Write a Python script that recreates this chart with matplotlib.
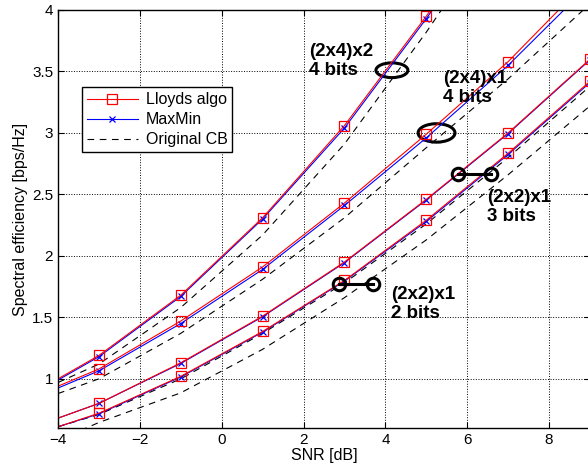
import matplotlib
matplotlib.use('Agg')
import matplotlib.pyplot as plt
from matplotlib.patches import Ellipse

plt.rcParams['font.family'] = ['Liberation Sans', 'DejaVu Sans']

# SNR points (markers drawn from -3 on, every 2 dB)
snr = [-4, -3, -1, 1, 3, 5, 7, 9]

# (2x4)x2, 4 bits
lloyd_a = [1.00, 1.19, 1.68, 2.31, 3.06, 3.95, 4.90, 5.90]
maxmin_a = [0.99, 1.18, 1.67, 2.30, 3.04, 3.93, 4.88, 5.88]
orig_a = [0.97, 1.12, 1.58, 2.17, 2.91, 3.82, 4.80, 5.80]
# (2x4)x1, 4 bits
lloyd_b = [0.94, 1.08, 1.47, 1.91, 2.43, 2.99, 3.58, 4.26]
maxmin_b = [0.925, 1.065, 1.45, 1.89, 2.41, 2.96, 3.55, 4.21]
orig_b = [0.88, 1.00, 1.37, 1.81, 2.31, 2.88, 3.44, 4.05]
# (2x2)x1, 3 bits
lloyd_c = [0.68, 0.80, 1.13, 1.51, 1.95, 2.46, 3.00, 3.60]
maxmin_c = [0.68, 0.80, 1.125, 1.505, 1.945, 2.455, 2.995, 3.595]
orig_c = [0.61, 0.71, 1.00, 1.37, 1.78, 2.26, 2.80, 3.38]
# (2x2)x1, 2 bits
lloyd_d = [0.61, 0.72, 1.02, 1.385, 1.80, 2.29, 2.835, 3.42]
maxmin_d = [0.61, 0.715, 1.015, 1.38, 1.795, 2.28, 2.825, 3.41]
orig_d = [0.50, 0.645, 0.886, 1.24, 1.66, 2.13, 2.66, 3.22]

lloyds = [lloyd_a, lloyd_b, lloyd_c, lloyd_d]
maxmins = [maxmin_a, maxmin_b, maxmin_c, maxmin_d]
origs = [orig_a, orig_b, orig_c, orig_d]

fig = plt.figure(figsize=(5.88, 4.74), dpi=100)
ax = fig.add_axes([58 / 588, 46 / 474, 532 / 588, 418 / 474])

mk = slice(1, None)
for i in range(4):
    lo, = ax.plot(snr, origs[i], color='k', ls=(0, (6, 5)), lw=0.8)
    mm, = ax.plot(snr, maxmins[i], color='b', lw=0.8, marker='x', ms=5,
                  mew=0.9, markevery=mk)
    ll, = ax.plot(snr, lloyds[i], color='r', lw=0.8, marker='s', ms=6.5,
                  mfc='none', mew=0.9, markevery=mk)
    if i == 0:
        handles = [ll, mm, lo]

ax.set_xlim(-4, 9)
ax.set_ylim(0.6, 4)
ax.set_xticks([-4, -2, 0, 2, 4, 6, 8])
ax.set_xticklabels(['\u22124', '\u22122', '0', '2', '4', '6', '8'])
ax.set_yticks([1, 1.5, 2, 2.5, 3, 3.5, 4])
ax.set_yticklabels(['1', '1.5', '2', '2.5', '3', '3.5', '4'])
ax.tick_params(direction='in', top=True, right=True, length=4, labelsize=11)
ax.grid(True, ls=':', color='k', lw=0.7)
for s in ax.spines.values():
    s.set_linewidth(1.0)
ax.set_xlabel('SNR [dB]', fontsize=11.5, labelpad=1)
ax.set_ylabel('Spectral efficiency [bps/Hz]', fontsize=11.5, labelpad=3)

leg = ax.legend(handles, ['Lloyds algo', 'MaxMin', 'Original CB'],
                loc='upper left', bbox_to_anchor=(0.045, 0.815),
                fontsize=11.5, fancybox=False, edgecolor='k', framealpha=1,
                handlelength=3.2, borderpad=0.3, labelspacing=0.32,
                handletextpad=0.5, borderaxespad=0)
leg.get_frame().set_linewidth(1.0)

# annotations
bold = dict(fontsize=13.5, fontweight='bold', linespacing=1.2, va='center')
ax.add_patch(Ellipse((4.16, 3.51), 0.78, 0.12, fill=False, ec='k', lw=2.2))
ax.text(2.14, 3.585, '(2x4)x2\n4 bits', **bold)
ax.add_patch(Ellipse((5.25, 3.0), 0.9, 0.15, fill=False, ec='k', lw=2.2))
ax.text(5.41, 3.367, '(2x4)x1\n4 bits', **bold)
ax.plot([5.78, 6.57], [2.665, 2.665], color='k', lw=2.2, marker='o', ms=9,
        mfc='none', mew=2.2)
ax.text(6.49, 2.397, '(2x2)x1\n3 bits', **bold)
ax.plot([2.87, 3.70], [1.77, 1.77], color='k', lw=2.2, marker='o', ms=9,
        mfc='none', mew=2.2)
ax.text(4.13, 1.61, '(2x2)x1\n2 bits', **bold)

fig.savefig('out.png', dpi=100)
